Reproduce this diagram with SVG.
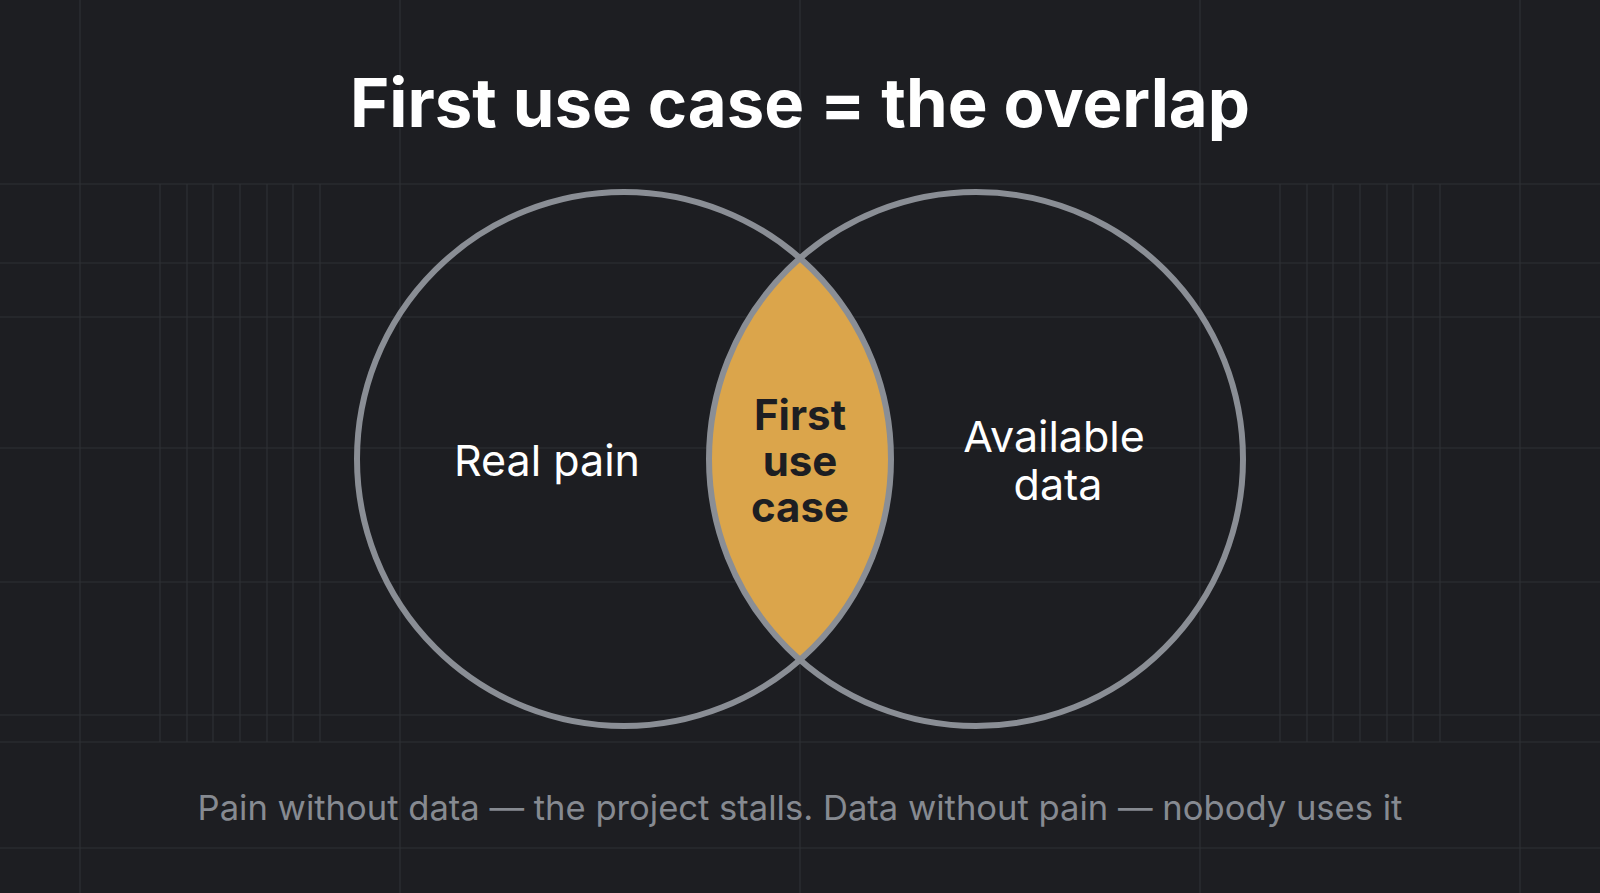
<svg xmlns="http://www.w3.org/2000/svg" width="1600" height="893" viewBox="0 0 1600 893">
<style>
.g{stroke:#2e3035;stroke-width:1.2;fill:none}
.c{fill:none;stroke:#8a8e95;stroke-width:6}
.t{font-family:Inter,"Liberation Sans",sans-serif;text-anchor:middle}
</style>
<rect width="1600" height="893" fill="#1d1e22"/>
<g id="grid">
<path class="g" d="M80 0V893M160 184V742M187 184V742M213 184V742M240 184V742M267 184V742M293 184V742M320 184V742M400 0V893M800 0V893M1200 0V893M1280 184V742M1307 184V742M1333 184V742M1360 184V742M1387 184V742M1413 184V742M1440 184V742M1520 0V893"/>
<path class="g" d="M0 184H1600M0 263H1600M0 317H1600M0 448H1600M0 582H1600M0 715H1600M0 742H1600M0 848H1600"/>
</g>
<text class="t" x="800" y="127" font-size="67" font-weight="700" fill="#ffffff">First use case = the overlap</text>
<g id="lens"><path d="M800 258A267 267 0 0 0 800 660A267 267 0 0 0 800 258Z" fill="#dba54b"/></g>
<g id="left"><circle class="c" cx="624" cy="459" r="267"/><text class="t" x="547" y="476" font-size="43" fill="#ffffff">Real pain</text></g>
<g id="right"><circle class="c" cx="976" cy="459" r="267"/><text class="t" font-size="43" fill="#ffffff"><tspan x="1054" y="452">Available</tspan><tspan x="1058" y="500">data</tspan></text></g>
<g id="center"><text class="t" font-size="42" font-weight="700" fill="#1d1e22"><tspan x="800" y="430">First</tspan><tspan x="800" y="476">use</tspan><tspan x="800" y="522">case</tspan></text></g>
<g id="connectors"/>
<text class="t" x="800" y="820" font-size="34.6" fill="#868a91">Pain without data — the project stalls. Data without pain — nobody uses it</text>
</svg>
